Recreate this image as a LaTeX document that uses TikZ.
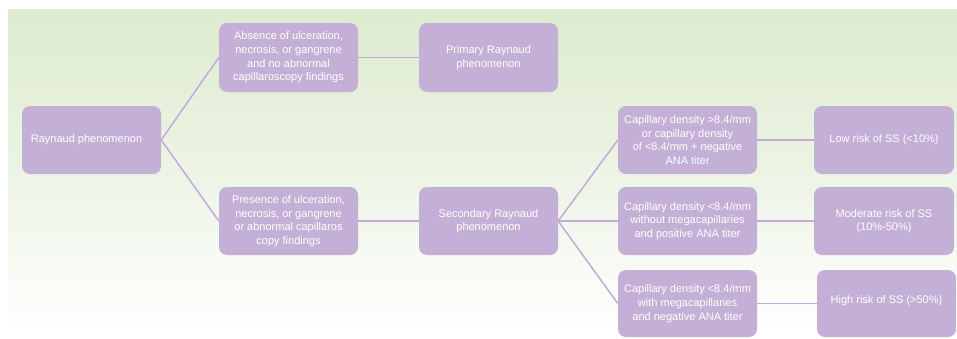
\documentclass[tikz,border=0pt]{standalone}
\usepackage{fontspec}
\setmainfont{Liberation Sans}
\definecolor{bgtop}{HTML}{DDEBCF}
\definecolor{boxfill}{HTML}{C4B0D6}
\definecolor{linec}{HTML}{C3AADA}
\begin{document}
\begin{tikzpicture}[x=1pt,y=-1pt,
  box/.style={draw=none,fill=boxfill,rounded corners=8pt,minimum width=139pt,minimum height=68pt,
    text=white,align=center,inner sep=2pt,font=\fontsize{11}{13.7}\selectfont},
  conn/.style={draw=linec,line width=1.5pt}]
\useasboundingbox (0,0) rectangle (957,338);
\shade[top color=bgtop,bottom color=white,middle color=bgtop!55] (8,9) rectangle (957,333);
\node[box] (ray) at (91.5,140) {\hspace*{-10pt}Raynaud phenomenon};
\node[box,minimum height=69pt] (abs) at (288.5,57.5) {Absence of ulceration,\\necrosis, or gangrene\\and no abnormal\\capillaroscopy findings};
\node[box] (pres) at (288.5,221) {Presence of ulceration,\\necrosis, or gangrene\\or abnormal capillaros\\copy findings};
\node[box,minimum height=69pt] (prim) at (488.5,57.5) {Primary Raynaud\\phenomenon};
\node[box] (sec) at (488.5,221) {Secondary Raynaud\\phenomenon};
\node[box] (c1) at (687.5,140) {Capillary density >8.4/mm\\or capillary density\\of <8.4/mm + negative\\ANA titer};
\node[box] (c2) at (687.5,221) {Capillary density <8.4/mm\\without megacapillaries\\and positive ANA titer};
\node[box,minimum height=67pt] (c3) at (687.5,303.5) {Capillary density <8.4/mm\\with megacapillaries\\and negative ANA titer};
\node[box,minimum width=140pt] (low) at (884,140) {Low risk of SS (<10\%)};
\node[box,minimum width=140pt] (mod) at (884,221) {Moderate risk of SS\\(10\%-50\%)};
\node[box,minimum height=67pt] (high) at (886.5,303.5) {\raisebox{7pt}{High risk of SS (>50\%)}};
\draw[conn] (ray.east) -- (abs.west);
\draw[conn] (ray.east) -- (pres.west);
\draw[conn] (abs.east) -- (prim.west);
\draw[conn] (pres.east) -- (sec.west);
\draw[conn] (sec.east) -- (c1.west);
\draw[conn] (sec.east) -- (c2.west);
\draw[conn] (sec.east) -- (c3.west);
\draw[conn] (c1.east) -- (low.west);
\draw[conn] (c2.east) -- (mod.west);
\draw[conn] (c3.east) -- (high.west);
\end{tikzpicture}
\end{document}
